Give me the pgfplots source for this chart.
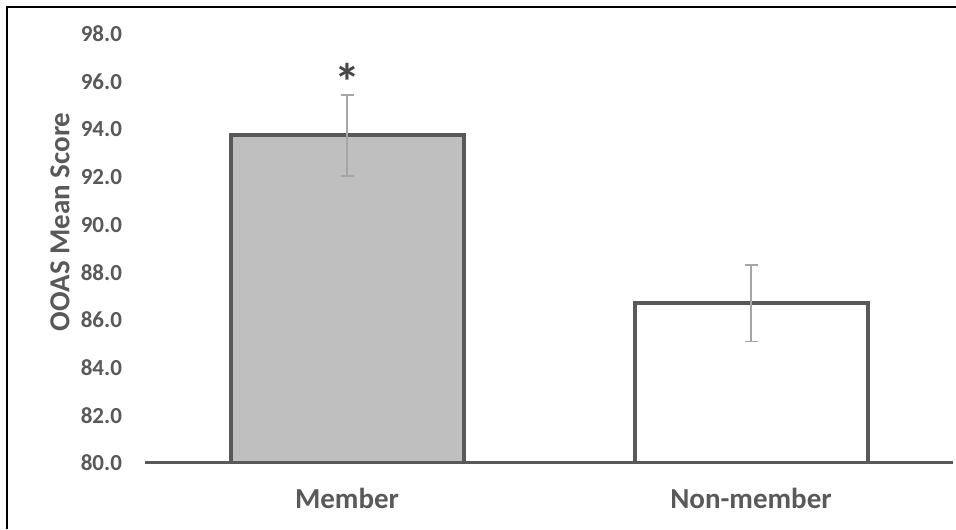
\documentclass[border=0pt]{standalone}
\usepackage{fontspec}
\setmainfont{Carlito}
\usepackage{pgfplots}
\pgfplotsset{compat=1.18}
\definecolor{txt}{HTML}{595959}
\definecolor{edge}{HTML}{595959}
\definecolor{fillg}{HTML}{BFBFBF}
\definecolor{errc}{HTML}{A6A6A6}

\begin{document}
\begin{tikzpicture}
\useasboundingbox (0,0) rectangle (478pt,264.5pt);
\draw[line width=1pt, black] (3.5pt,0) -- (3.5pt,261pt) -- (478pt,261pt);
\begin{axis}[
    at={(72.5pt,33pt)}, anchor=south west,
    scale only axis, width=404pt, height=214.5pt,
    xmin=-0.5, xmax=1.5, ymin=80, ymax=98,
    ytick={80,82,84,86,88,90,92,94,96,98},
    xtick={0,1}, xticklabels={Member,Non-member},
    axis x line*=bottom, axis y line*=left,
    y axis line style={draw=none},
    x axis line style={edge, line width=1.5pt},
    major tick length=0pt,
    axis on top,
    /pgf/number format/.cd, fixed, fixed zerofill, precision=1, assume math mode=true,
    /pgfplots/.cd,
    yticklabel style={font=\bfseries\fontsize{11.5}{12}\selectfont, text=txt, xshift=-8pt},
    xticklabel style={font=\bfseries\fontsize{14.5}{15}\selectfont, text=txt, yshift=-9pt},
    ylabel={OOAS Mean Score},
    ylabel style={at={(rel axis cs:0,0.562)}, anchor=center, yshift=42.5pt,
        font=\bfseries\fontsize{14.5}{15}\selectfont, text=txt},
]
\addplot[ybar, bar width=116.5pt, bar shift=0pt, draw=edge, line width=2pt, fill=fillg,
    error bars/.cd, y dir=both, y explicit,
    error bar style={errc, line width=0.75pt},
    error mark options={errc, line width=0.75pt, mark size=3.25pt, rotate=90}]
    coordinates {(0,93.75) +- (0,1.7)};
\addplot[ybar, bar width=116.5pt, bar shift=0pt, draw=edge, line width=2pt, fill=white,
    error bars/.cd, y dir=both, y explicit,
    error bar style={errc, line width=0.75pt},
    error mark options={errc, line width=0.75pt, mark size=3.25pt, rotate=90}]
    coordinates {(1,86.7) +- (0,1.6)};
\node[font=\bfseries\fontsize{26}{26}\selectfont, text=black!72] at (axis cs:0,96.0) {*};
\end{axis}
\end{tikzpicture}
\end{document}
